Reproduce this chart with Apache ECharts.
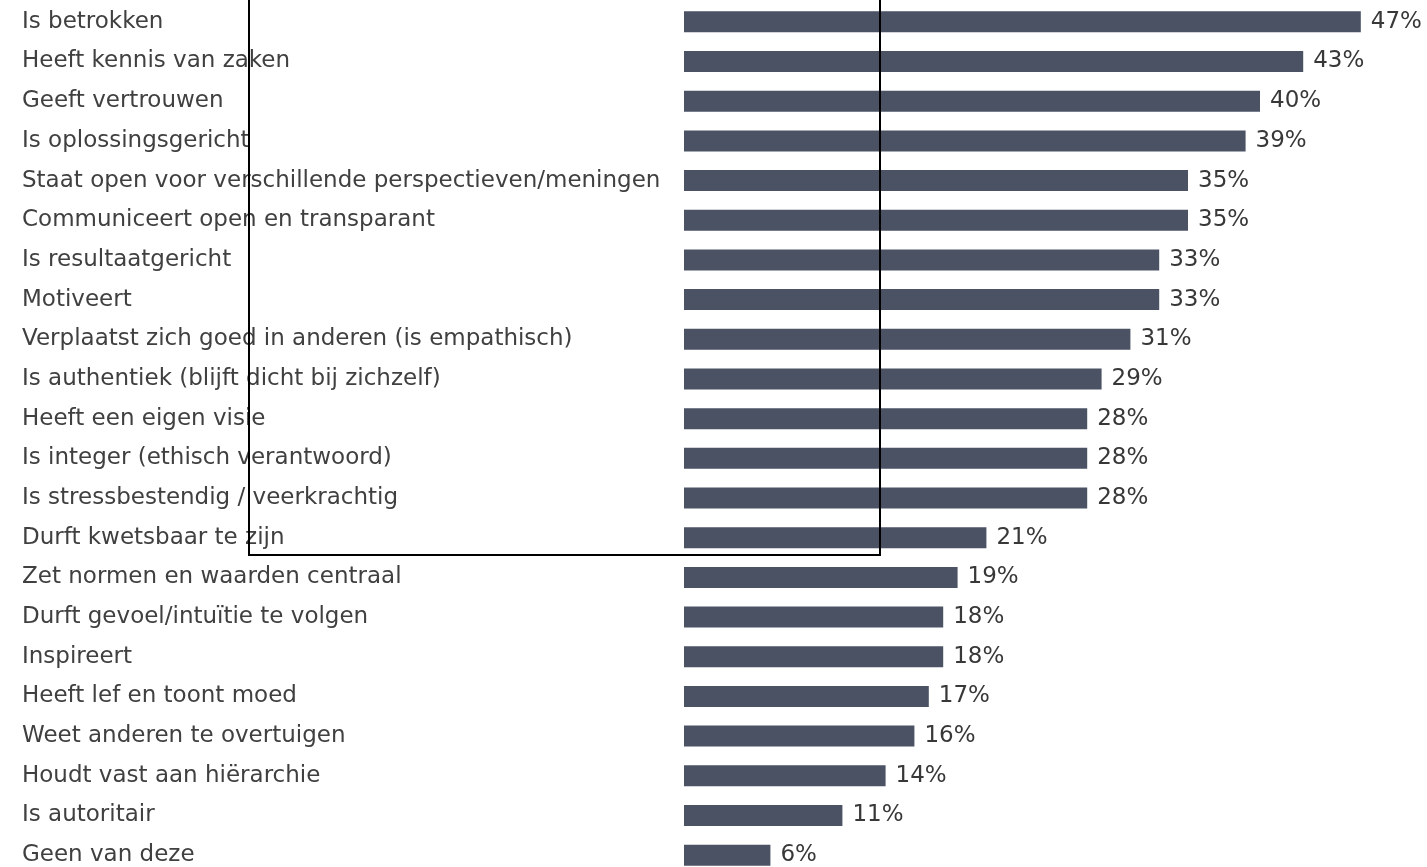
<!DOCTYPE html>
<html>
<head>
<meta charset="utf-8">
<script src="https://cdn.jsdelivr.net/npm/echarts@6/dist/echarts.min.js"></script>
<style>
  html, body { margin: 0; padding: 0; background: #ffffff; overflow: hidden; }
  #chart { width: 1427px; height: 880px; }
</style>
</head>
<body>
<div id="chart"></div>
<script>
// Eigenschappen van een leider, aandeel respondenten (%)
const categories = [
  'Is betrokken',
  'Heeft kennis van zaken',
  'Geeft vertrouwen',
  'Is oplossingsgericht',
  'Staat open voor verschillende perspectieven/meningen',
  'Communiceert open en transparant',
  'Is resultaatgericht',
  'Motiveert',
  'Verplaatst zich goed in anderen (is empathisch)',
  'Is authentiek (blijft dicht bij zichzelf)',
  'Heeft een eigen visie',
  'Is integer (ethisch verantwoord)',
  'Is stressbestendig / veerkrachtig',
  'Durft kwetsbaar te zijn',
  'Zet normen en waarden centraal',
  'Durft gevoel/intuïtie te volgen',
  'Inspireert',
  'Heeft lef en toont moed',
  'Weet anderen te overtuigen',
  'Houdt vast aan hiërarchie',
  'Is autoritair',
  'Geen van deze'
];
const percentages = [47, 43, 40, 39, 35, 35, 33, 33, 31, 29, 28, 28, 28, 21, 19, 18, 18, 17, 16, 14, 11, 6];

const chart = echarts.init(document.getElementById('chart'), null, { renderer: 'canvas' });

chart.setOption({
  animation: false,
  backgroundColor: '#ffffff',
  grid: { left: 684, top: 2, width: 720, height: 873, containLabel: false },
  xAxis: {
    type: 'value',
    min: 0,
    max: 50,
    show: false
  },
  yAxis: {
    type: 'category',
    data: categories,
    inverse: true,
    axisLine: { show: false },
    axisTick: { show: false },
    splitLine: { show: false },
    axisLabel: {
      align: 'left',
      margin: 662,
      color: '#404040',
      fontFamily: 'DejaVu Sans',
      fontSize: 23
    }
  },
  series: [{
    type: 'bar',
    data: percentages,
    barWidth: 21,
    itemStyle: { color: '#4a5263' },
    label: {
      show: true,
      position: 'right',
      distance: 10,
      formatter: '{c}%',
      color: '#383838',
      fontFamily: 'DejaVu Sans',
      fontSize: 23
    }
  }],
  graphic: [{
    type: 'rect',
    shape: { x: 249, y: -10, width: 631, height: 565 },
    style: { fill: 'none', stroke: '#000000', lineWidth: 2 },
    z: 100
  }]
});
</script>
</body>
</html>
